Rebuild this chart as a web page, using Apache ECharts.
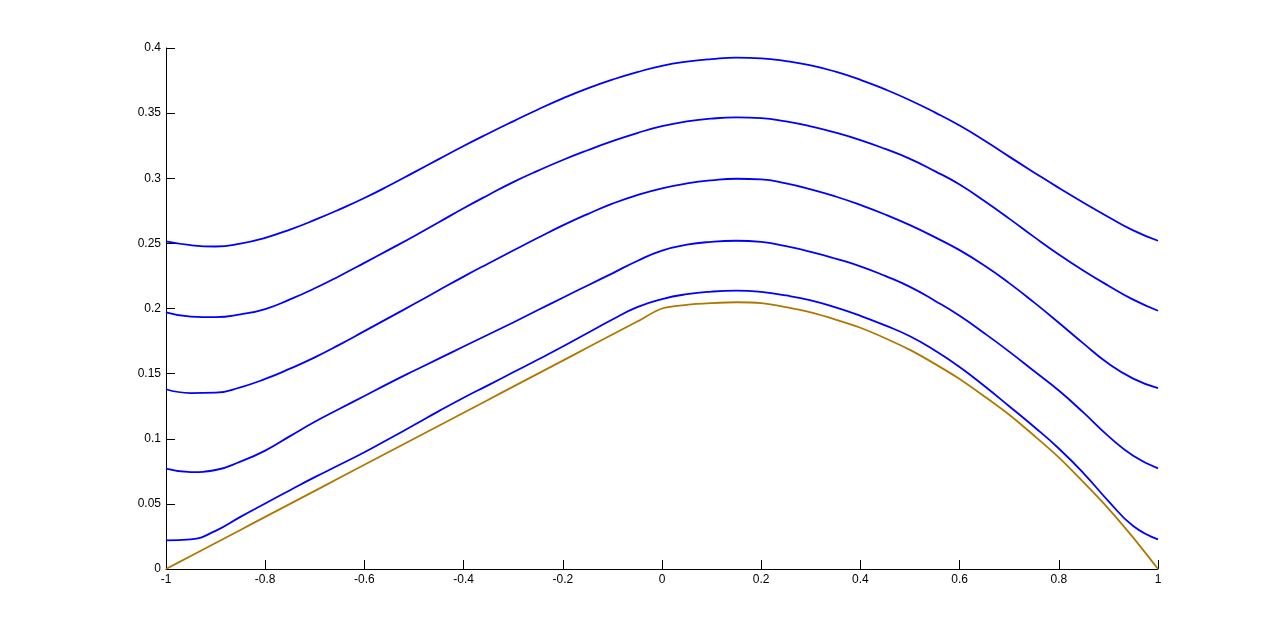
<!DOCTYPE html>
<html>
<head>
<meta charset="utf-8">
<title>curves</title>
<script src="https://cdn.jsdelivr.net/npm/echarts@6/dist/echarts.min.js"></script>
<style>
  html, body { margin: 0; padding: 0; background: #fff; }
  #charts { width: 1280px; height: 641px; }
</style>
</head>
<body>
<div id="charts"></div>
<script>
// x positions shared by all curves (-1 .. 1, step 0.05)
const xs = [-1, -0.95, -0.9, -0.85, -0.8, -0.75, -0.7, -0.65, -0.6, -0.55, -0.5, -0.45, -0.4, -0.35, -0.3, -0.25, -0.2, -0.15, -0.1, -0.05,
  0, 0.05, 0.1, 0.15, 0.2, 0.25, 0.3, 0.35, 0.4, 0.45, 0.5, 0.55, 0.6, 0.65, 0.7, 0.75, 0.8, 0.85, 0.9, 0.95, 1]

// blue curves, top to bottom
const blue1 = [0.2515, 0.2486, 0.2476, 0.2498, 0.2543, 0.2606, 0.2680, 0.2761, 0.2848, 0.2944, 0.3045, 0.3147, 0.3248, 0.3344, 0.3437, 0.3528, 0.3613, 0.3690, 0.3757, 0.3815,
  0.3863, 0.3895, 0.3915, 0.3926, 0.3921, 0.3900, 0.3867, 0.3818, 0.3756, 0.3682, 0.3599, 0.3506, 0.3405, 0.3290, 0.3166, 0.3045, 0.2926, 0.2812, 0.2703, 0.2600, 0.2520]
const blue2 = [0.1970, 0.1938, 0.1934, 0.1955, 0.1996, 0.2070, 0.2155, 0.2250, 0.2350, 0.2452, 0.2555, 0.2662, 0.2770, 0.2872, 0.2970, 0.3058, 0.3140, 0.3215, 0.3285, 0.3347,
  0.3400, 0.3436, 0.3458, 0.3467, 0.3462, 0.3436, 0.3398, 0.3350, 0.3293, 0.3225, 0.3149, 0.3055, 0.2952, 0.2825, 0.2690, 0.2550, 0.2415, 0.2290, 0.2175, 0.2068, 0.1983]
const blue3 = [0.1380, 0.1351, 0.1354, 0.1395, 0.1459, 0.1538, 0.1625, 0.1723, 0.1826, 0.1930, 0.2034, 0.2140, 0.2245, 0.2346, 0.2445, 0.2543, 0.2638, 0.2725, 0.2805, 0.2871,
  0.2923, 0.2960, 0.2984, 0.2996, 0.2991, 0.2960, 0.2915, 0.2860, 0.2795, 0.2722, 0.2640, 0.2548, 0.2448, 0.2330, 0.2195, 0.2047, 0.1891, 0.1730, 0.1577, 0.1462, 0.1388]
const blue4 = [0.0770, 0.0744, 0.0760, 0.0825, 0.0909, 0.1020, 0.1130, 0.1230, 0.1328, 0.1427, 0.1522, 0.1615, 0.1708, 0.1800, 0.1893, 0.1988, 0.2083, 0.2177, 0.2270, 0.2365,
  0.2445, 0.2490, 0.2512, 0.2520, 0.2512, 0.2478, 0.2435, 0.2383, 0.2324, 0.2250, 0.2166, 0.2060, 0.1944, 0.1810, 0.1669, 0.1520, 0.1370, 0.1200, 0.1020, 0.0870, 0.0773]
const blue5 = [0.0220, 0.0228, 0.0293, 0.0400, 0.0503, 0.0605, 0.0705, 0.0800, 0.0896, 0.1000, 0.1105, 0.1212, 0.1315, 0.1412, 0.1510, 0.1608, 0.1708, 0.1812, 0.1915, 0.2010,
  0.2072, 0.2110, 0.2130, 0.2137, 0.2127, 0.2100, 0.2062, 0.2008, 0.1944, 0.1870, 0.1787, 0.1678, 0.1551, 0.1405, 0.1250, 0.1092, 0.0925, 0.0735, 0.0522, 0.0330, 0.0228]

// brown curve
const brown = [0, 0.01, 0.02, 0.03, 0.04, 0.05, 0.06, 0.07, 0.08, 0.09, 0.10, 0.11, 0.12, 0.13, 0.14, 0.15, 0.16, 0.17, 0.18, 0.19,
  0.2, 0.2028, 0.2041, 0.2048, 0.2041, 0.2010, 0.1970, 0.1915, 0.1852, 0.1772, 0.1682, 0.1575, 0.1459, 0.1325, 0.1184, 0.1025, 0.0857, 0.0665, 0.0464, 0.0241, 0]

// tick settings
const xTicks = { min: -1, max: 1, step: 0.2 }
const yTicks = { min: 0, max: 0.4, step: 0.05 }

const pair = (arr) => xs.map((x, i) => [x, arr[i]])

const blueLine = (name, arr) => ({
  name: name,
  type: 'line',
  data: pair(arr),
  smooth: 0.5,
  symbol: 'none',
  lineStyle: { color: '#0000ff', width: 1.8 }
})

const axisCommon = {
  type: 'value',
  splitLine: { show: false },
  axisLine: { show: true, onZero: false, lineStyle: { color: '#000', width: 1 } },
  axisTick: { show: true, inside: true, length: 9, lineStyle: { color: '#000' } },
  axisLabel: { color: '#000', fontSize: 12, fontFamily: 'Liberation Sans, Arial, sans-serif', margin: 5 }
}

const myChart = echarts.init(document.getElementById('charts'))
myChart.setOption({
  animation: false,
  grid: { left: 166, right: 122, top: 48, bottom: 72 },
  xAxis: Object.assign({}, axisCommon, { min: xTicks.min, max: xTicks.max, interval: xTicks.step }),
  yAxis: Object.assign({}, axisCommon, { min: yTicks.min, max: yTicks.max, interval: yTicks.step }),
  series: [
    blueLine('c1', blue1),
    blueLine('c2', blue2),
    blueLine('c3', blue3),
    blueLine('c4', blue4),
    blueLine('c5', blue5),
    {
      name: 'base',
      type: 'line',
      data: pair(brown),
      smooth: 0.3,
      symbol: 'none',
      lineStyle: { color: '#b07800', width: 1.8 }
    }
  ]
})
</script>
</body>
</html>
